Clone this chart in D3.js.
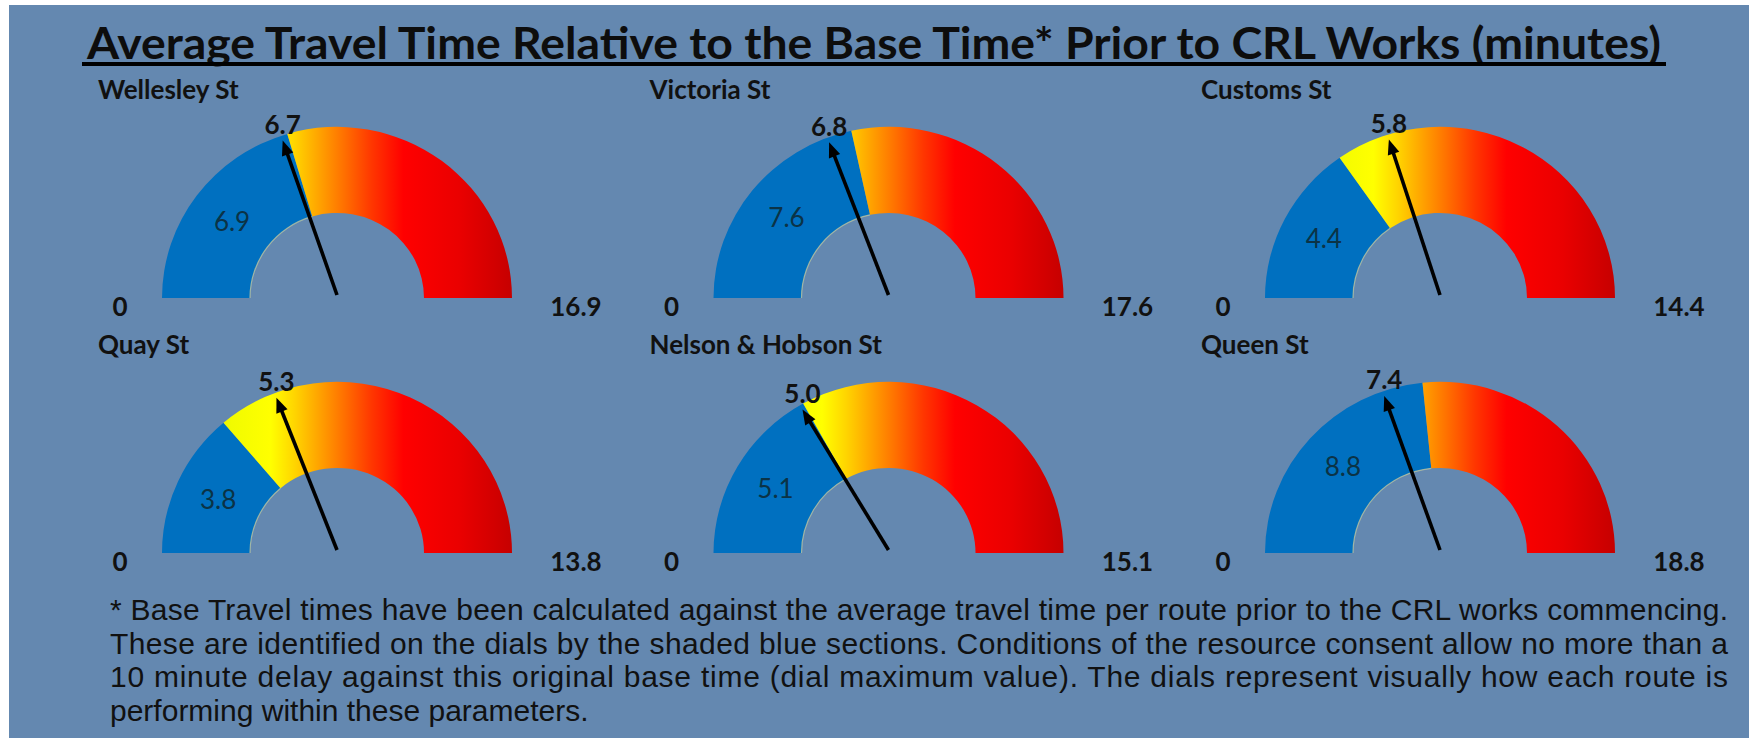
<!DOCTYPE html>
<html>
<head>
<meta charset="utf-8">
<script src="https://cdn.jsdelivr.net/npm/d3@7"></script>
<style>
  html, body { margin: 0; padding: 0; background: #ffffff; }
  svg { display: block; }
</style>
</head>
<body>
<svg id="chart" width="1749" height="738"></svg>
<script>
// ---------------- data ----------------
const routes       = ["Wellesley St", "Victoria St", "Customs St", "Quay St", "Nelson & Hobson St", "Queen St"];
const baseTimes    = [6.9, 7.6, 4.4, 3.8, 5.1, 8.8];     // blue section (base travel time)
const currentTimes = [6.7, 6.8, 5.8, 5.3, 5.0, 7.4];     // needle value
const maxTimes     = [16.9, 17.6, 14.4, 13.8, 15.1, 18.8]; // dial maximum
const minLabels    = ["0", "0", "0", "0", "0", "0"];
const titleText    = "Average Travel Time Relative to the Base Time* Prior to CRL Works (minutes)";
const footnoteLines = [
  "* Base Travel times have been calculated against the average travel time per route prior to the CRL works commencing.",
  "These are identified on the dials by the shaded blue sections. Conditions of the resource consent allow no more than a",
  "10 minute delay against this original base time (dial maximum value). The dials represent visually how each route is",
  "performing within these parameters."
];

// ---------------- layout ----------------
const W = 1749, H = 738;
const svg = d3.select("#chart");
const FONT = "Lato, 'Open Sans', 'DejaVu Sans', sans-serif";

svg.append("rect")
  .attr("x", 9).attr("y", 5)
  .attr("width", W - 9).attr("height", H - 5)
  .attr("fill", "#6488b0");

// gradient for the non-base section (horizontal across the dial)
const R_OUT = 175, R_IN = 87, YS = 0.978;
const defs = svg.append("defs");
const grad = defs.append("linearGradient")
  .attr("id", "heat")
  .attr("gradientUnits", "userSpaceOnUse")
  .attr("x1", -R_OUT).attr("x2", R_OUT).attr("y1", 0).attr("y2", 0);
[
  [0.00, "#cfe600"], [0.20, "#f2fb00"], [0.31, "#ffff00"], [0.38, "#ffd400"],
  [0.45, "#ffa200"], [0.52, "#ff7000"], [0.60, "#ff3600"], [0.69, "#ff0000"],
  [0.85, "#ea0000"], [1.00, "#c60000"]
].forEach(([o, c]) => grad.append("stop").attr("offset", o).attr("stop-color", c));

// title
const title = svg.append("text")
  .attr("x", 87).attr("y", 59)
  .attr("font-family", FONT)
  .attr("font-weight", 700)
  .attr("font-size", 43)
  .attr("fill", "#0d0d0d")
  .attr("textLength", 1574)
  .attr("lengthAdjust", "spacingAndGlyphs")
  .text(titleText);
svg.append("rect")
  .attr("x", 82).attr("y", 62)
  .attr("width", 1666 - 82).attr("height", 4)
  .attr("fill", "#000");

// grid positions of the dials
const colX = d3.scaleLinear().domain([0, 2]).range([337, 1440]);
const rowY = d3.scaleLinear().domain([0, 1]).range([298, 553]);

const arc = d3.arc().innerRadius(R_IN).outerRadius(R_OUT);
const rimArc = d3.arc().innerRadius(R_IN - 0.6).outerRadius(R_IN + 0.6);

routes.forEach((name, i) => {
  const cx = colX(i % 3), cy = rowY(Math.floor(i / 3));
  const g = svg.append("g").attr("transform", `translate(${cx},${cy})`);
  const ang = d3.scaleLinear().domain([0, maxTimes[i]]).range([-Math.PI / 2, Math.PI / 2]);

  // dial arcs
  const ag = g.append("g").attr("transform", `scale(1,${YS})`);
  ag.append("path")
    .attr("d", arc({ startAngle: ang(0), endAngle: ang(baseTimes[i]) }))
    .attr("fill", "#0070c0");
  ag.append("path")
    .attr("d", arc({ startAngle: ang(baseTimes[i]), endAngle: ang(maxTimes[i]) }))
    .attr("fill", "url(#heat)");
  ag.append("path")
    .attr("d", rimArc({ startAngle: ang(0), endAngle: ang(baseTimes[i]) }))
    .attr("fill", "#c3c9a0").attr("opacity", 0.75);

  // base label (inside the blue section)
  const c = arc.centroid({ startAngle: ang(0), endAngle: ang(baseTimes[i]) });
  g.append("text")
    .attr("x", c[0]).attr("y", c[1] * YS)
    .attr("dy", "0.36em")
    .attr("text-anchor", "middle")
    .attr("font-family", FONT).attr("font-size", 26)
    .attr("fill", "#0b3346")
    .text(d3.format(".1f")(baseTimes[i]));

  // needle
  const a = ang(currentTimes[i]);
  const L = 170, head = 15, hw = 6;
  const px = 0, py = -3;
  const tx = L * Math.sin(a), ty = -L * Math.cos(a) * YS;
  const dx = tx - px, dy = ty - py, len = Math.hypot(dx, dy);
  const ux = dx / len, uy = dy / len;
  const bx = tx - ux * head, by = ty - uy * head;
  g.append("line")
    .attr("x1", px).attr("y1", py)
    .attr("x2", bx + ux * 2).attr("y2", by + uy * 2)
    .attr("stroke", "#000").attr("stroke-width", 3.6);
  g.append("path")
    .attr("d", `M${tx},${ty}L${bx - uy * hw},${by + ux * hw}L${bx + uy * hw},${by - ux * hw}Z`)
    .attr("fill", "#000");

  // current value label above the needle tip
  g.append("text")
    .attr("x", tx).attr("y", ty - 16)
    .attr("dy", "0.36em")
    .attr("text-anchor", "middle")
    .attr("font-family", FONT).attr("font-weight", 700).attr("font-size", 26)
    .attr("fill", "#111")
    .text(d3.format(".1f")(currentTimes[i]));

  // route title
  g.append("text")
    .attr("x", -239).attr("y", -199)
    .attr("font-family", FONT).attr("font-weight", 700).attr("font-size", 26)
    .attr("fill", "#111")
    .text(name);

  // min / max labels
  g.append("text")
    .attr("x", -217).attr("y", 9).attr("dy", "0.36em")
    .attr("text-anchor", "middle")
    .attr("font-family", FONT).attr("font-weight", 700).attr("font-size", 26)
    .attr("fill", "#111")
    .text(minLabels[i]);
  g.append("text")
    .attr("x", 239).attr("y", 9).attr("dy", "0.36em")
    .attr("text-anchor", "middle")
    .attr("font-family", FONT).attr("font-weight", 700).attr("font-size", 26)
    .attr("fill", "#111")
    .text(d3.format(".1f")(maxTimes[i]));
});

// footnote (justified lines)
const foot = svg.append("g");
footnoteLines.forEach((line, i) => {
  const t = foot.append("text")
    .attr("x", 110).attr("y", 620 + i * 33.5)
    .attr("font-family", "'Liberation Sans', Arial, sans-serif")
    .attr("font-size", 30)
    .attr("fill", "#111")
    .text(line);
  if (i < footnoteLines.length - 1) {
    t.attr("textLength", 1618).attr("lengthAdjust", "spacing");
  }
});
</script>
</body>
</html>
